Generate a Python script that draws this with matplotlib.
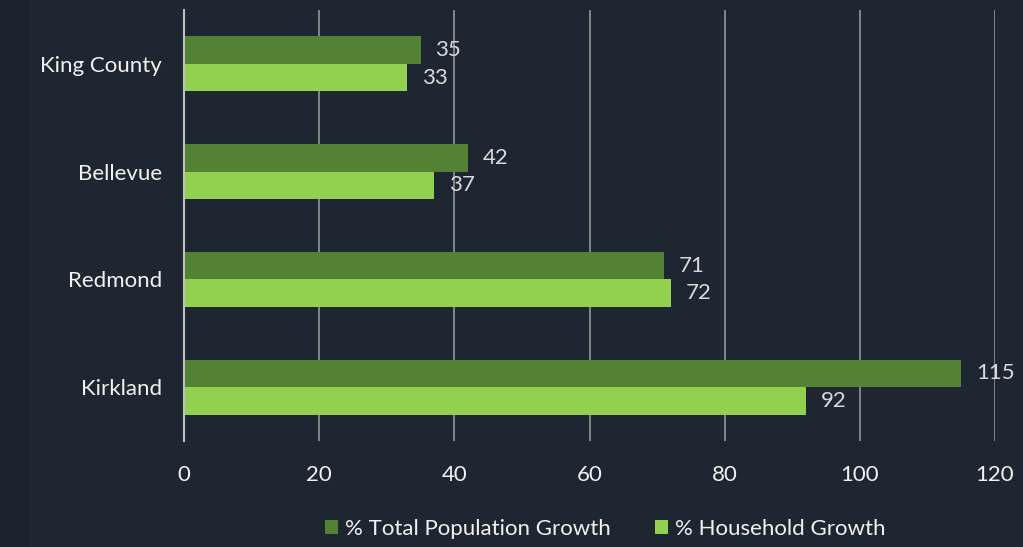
import matplotlib.pyplot as plt
import numpy as np
from matplotlib.patches import Rectangle

# datos
areas = ["King County", "Bellevue", "Redmond", "Kirkland"]
poblacion = [35, 42, 71, 115]
hogares = [33, 37, 72, 92]
xticks = [0, 20, 40, 60, 80, 100, 120]

fondo = "#1e2631"
texto = "#f2f2f2"
verde_osc = "#548235"
verde_cla = "#92d050"

plt.rcParams['font.family'] = ['Lato', 'DejaVu Sans']

fig = plt.figure(figsize=(10.23, 5.47), dpi=100, facecolor=fondo)
# franja oscura a la izquierda
fig.patches.append(Rectangle((0, 0), 29 / 1023, 1, transform=fig.transFigure,
                             facecolor="#1a232b", edgecolor="none", zorder=0))
ax = fig.add_axes([184 / 1023, 1 - 441 / 547, (995 - 184) / 1023, 431 / 547])
ax.set_facecolor(fondo)

y = np.arange(len(areas))
h = 0.255
b1 = ax.barh(y - h / 2, poblacion, height=h, color=verde_osc, label="% Total Population Growth", zorder=3)
b2 = ax.barh(y + h / 2, hogares, height=h, color=verde_cla, label="% Household Growth", zorder=3)

for barras, vals in [(b1, poblacion), (b2, hogares)]:
    for r, v in zip(barras, vals):
        ax.text(v + 2.2, r.get_y() + r.get_height() / 2, str(v), va="center", ha="left",
                color="#d9d9d9", fontsize=16)

ax.set_xlim(0, 120)
ax.set_ylim(3.5, -0.5)
ax.set_xticks(xticks)
ax.set_yticks(y)
ax.set_yticklabels(areas)
ax.tick_params(axis="both", length=0, colors=texto, labelsize=16)
ax.tick_params(axis="x", pad=17)
ax.tick_params(axis="y", pad=16)
ax.grid(axis="x", color="#8c8c8c", linewidth=1.3, zorder=0)
for s in ["top", "right", "bottom"]:
    ax.spines[s].set_visible(False)
ax.spines["left"].set_color("#bfbfbf")
ax.spines["left"].set_linewidth(1.5)
ax.spines["left"].set_zorder(4)

leg = fig.legend(loc="center", bbox_to_anchor=(605 / 1023, 1 - 529 / 547), ncol=2,
                 frameon=False, fontsize=16, labelcolor=texto, handlelength=0.6,
                 handleheight=0.6, handletextpad=0.3, columnspacing=2.0)

fig.savefig("out.png", dpi=100, facecolor=fondo)
